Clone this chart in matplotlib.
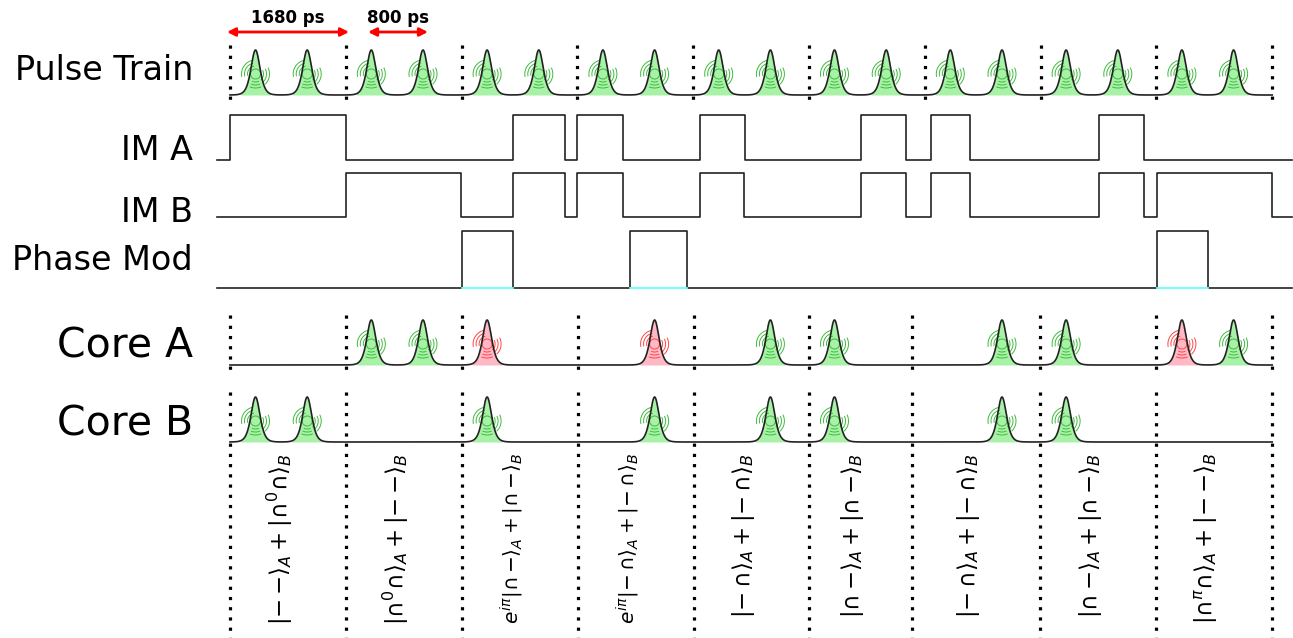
import numpy as np
import matplotlib
matplotlib.use("Agg")
import matplotlib.pyplot as plt

# time axis in ps, one time slot = 1680 ps
slot = 1680
n_slots = 9
pulse_offsets = [370, 1120]

# slot boundaries drawn in the core rows (one of them is shifted in the source)
core_bounds = [0, 1683, 3366, 5049, 6732, 8401, 9895, 11752, 13435, 15118]

# pulses in Core A / Core B: slot number, pulse index in slot, colour kind
core_a_slot = [1, 1, 2, 3, 4, 5, 6, 7, 8, 8]
core_a_idx = [0, 1, 0, 1, 1, 0, 1, 0, 0, 1]
core_a_kind = ['g', 'g', 'r', 'r', 'g', 'g', 'g', 'g', 'r', 'g']
core_b_slot = [0, 0, 2, 3, 4, 5, 6, 7]
core_b_idx = [0, 1, 0, 1, 1, 0, 1, 0]

# modulator edges (ps), signal starts low and toggles at each edge
im_a_edges = [-190, 0, 1680, 4100, 4860, 5040, 5700, 6820, 7470, 9150, 9810,
              10170, 10740, 12610, 13260, 15400]
im_b_edges = [-190, 1680, 3355, 4100, 4860, 5040, 5700, 6820, 7460, 9150, 9810,
              10170, 10740, 12610, 13260, 13445, 15120, 15400]
pm_edges = [-190, 3366, 4106, 5803, 6630, 13449, 14189, 15400]

state_labels = [
    r'$|{-}\,{-}\rangle_A + |{\cap}^0{\cap}\rangle_B$',
    r'$|{\cap}^0{\cap}\rangle_A + |{-}\,{-}\rangle_B$',
    r'$e^{i\pi}|{\cap}\,{-}\rangle_A + |{\cap}\,{-}\rangle_B$',
    r'$e^{i\pi}|{-}\,{\cap}\rangle_A + |{-}\,{\cap}\rangle_B$',
    r'$|{-}\,{\cap}\rangle_A + |{-}\,{\cap}\rangle_B$',
    r'$|{\cap}\,{-}\rangle_A + |{\cap}\,{-}\rangle_B$',
    r'$|{-}\,{\cap}\rangle_A + |{-}\,{\cap}\rangle_B$',
    r'$|{\cap}\,{-}\rangle_A + |{\cap}\,{-}\rangle_B$',
    r'$|{\cap}^\pi{\cap}\rangle_A + |{-}\,{-}\rangle_B$',
]

ps_per_px = 1680 / 115.8
W, H = 1293, 638

fig = plt.figure(figsize=(W / 100, H / 100), dpi=100)
ax = fig.add_axes([0, 0, 1, 1])
ax.set_xlim(-230 * ps_per_px, (W - 230) * ps_per_px)
ax.set_ylim(H, 0)
ax.axis('off')

LINE = '#222222'
GREEN_FILL = '#a8f2a8'
GREEN_ARC = '#3dbb3d'
RED_FILL = '#ffb9c6'
RED_ARC = '#ff4545'
pulse_h = 45
pulse_w = 6 * ps_per_px


def pulse_row(base, times, kinds):
    x = np.linspace(0, n_slots * slot, 8000)
    y = np.full_like(x, base, dtype=float)
    for t in times:
        y -= pulse_h / np.cosh((x - t) / pulse_w) ** 2
    for t, k in zip(times, kinds):
        fill = GREEN_FILL if k == 'g' else RED_FILL
        arc = GREEN_ARC if k == 'g' else RED_ARC
        m = np.abs(x - t) < 15 * ps_per_px
        ax.fill_between(x[m], base, y[m], color=fill, lw=0, zorder=1)
        cy = base - 21
        a = np.linspace(0, 2 * np.pi, 60)
        ax.plot(t + 5 * np.cos(a) * ps_per_px, cy - 5 * np.sin(a), color=arc, lw=0.7, zorder=2)
        for r in [8, 11, 14]:
            for a1, a2 in [(105, 190), (-45, 25), (248, 292)]:
                a = np.radians(np.linspace(a1, a2, 30))
                ax.plot(t + r * np.cos(a) * ps_per_px, cy - r * np.sin(a), color=arc, lw=0.7, zorder=2)
    ax.plot(x, y, color=LINE, lw=1.2, zorder=3)


def step_row(edges, y_low, y_high, cyan=False):
    levels = [y_low if i % 2 == 0 else y_high for i in range(len(edges))]
    levels[-1] = levels[-2]
    ax.plot(edges, levels, drawstyle='steps-post', color=LINE, lw=1.2, zorder=3)
    if cyan:
        for i in range(1, len(edges) - 1, 2):
            ax.plot([edges[i], edges[i + 1]], [y_low, y_low], color='#66ffff', lw=1.3, zorder=4)


def dotted(xs, y0, y1):
    for xv in xs:
        ax.plot([xv, xv], [y0, y1], color='black', lw=2.3, ls=(0, (1, 2.2)), zorder=5)


# pulse train
train_times = [k * slot + o for k in range(n_slots) for o in pulse_offsets]
pulse_row(95, train_times, ['g'] * len(train_times))
dotted([k * slot for k in range(n_slots + 1)], 45, 104)

# modulators
step_row(im_a_edges, 160, 115)
step_row(im_b_edges, 217, 173)
step_row(pm_edges, 288, 231, cyan=True)

# cores
core_a_times = [s * slot + pulse_offsets[i] for s, i in zip(core_a_slot, core_a_idx)]
core_b_times = [s * slot + pulse_offsets[i] for s, i in zip(core_b_slot, core_b_idx)]
pulse_row(365, core_a_times, core_a_kind)
pulse_row(442, core_b_times, ['g'] * len(core_b_times))
dotted(core_bounds, 315, 375)
dotted(core_bounds, 392, 640)

# row labels
for txt, y, fs in [('Pulse Train', 71, 24), ('IM A', 150, 24), ('IM B', 212, 24),
                   ('Phase Mod', 261, 24), ('Core A', 347, 29.5), ('Core B', 424, 29.5)]:
    ax.text(193 * ps_per_px - 230 * ps_per_px, y, txt, fontsize=fs, ha='right', va='center',
            color='black')

# state labels (the phase-factor ones are longer, shrink them to fit)
for i, lab in enumerate(state_labels):
    xc = (core_bounds[i] + core_bounds[i + 1]) / 2 - 8 * ps_per_px
    fs = 14.5 if lab.startswith('$e') else 16.5
    ax.text(xc, 453, lab, rotation=90, ha='center', va='top', fontsize=fs)

# timing arrows
for x0, x1, txt in [(-44, 1727, '1680 ps'), (2002, 2873, '800 ps')]:
    ax.annotate('', xy=(x0, 32), xytext=(x1, 32),
                arrowprops=dict(arrowstyle='<|-|>', color='red', lw=2,
                                mutation_scale=12, shrinkA=0, shrinkB=0))
    ax.text((x0 + x1) / 2, 18, txt, fontsize=12, fontweight='bold', ha='center', va='center')

fig.savefig('out.png', dpi=100)
